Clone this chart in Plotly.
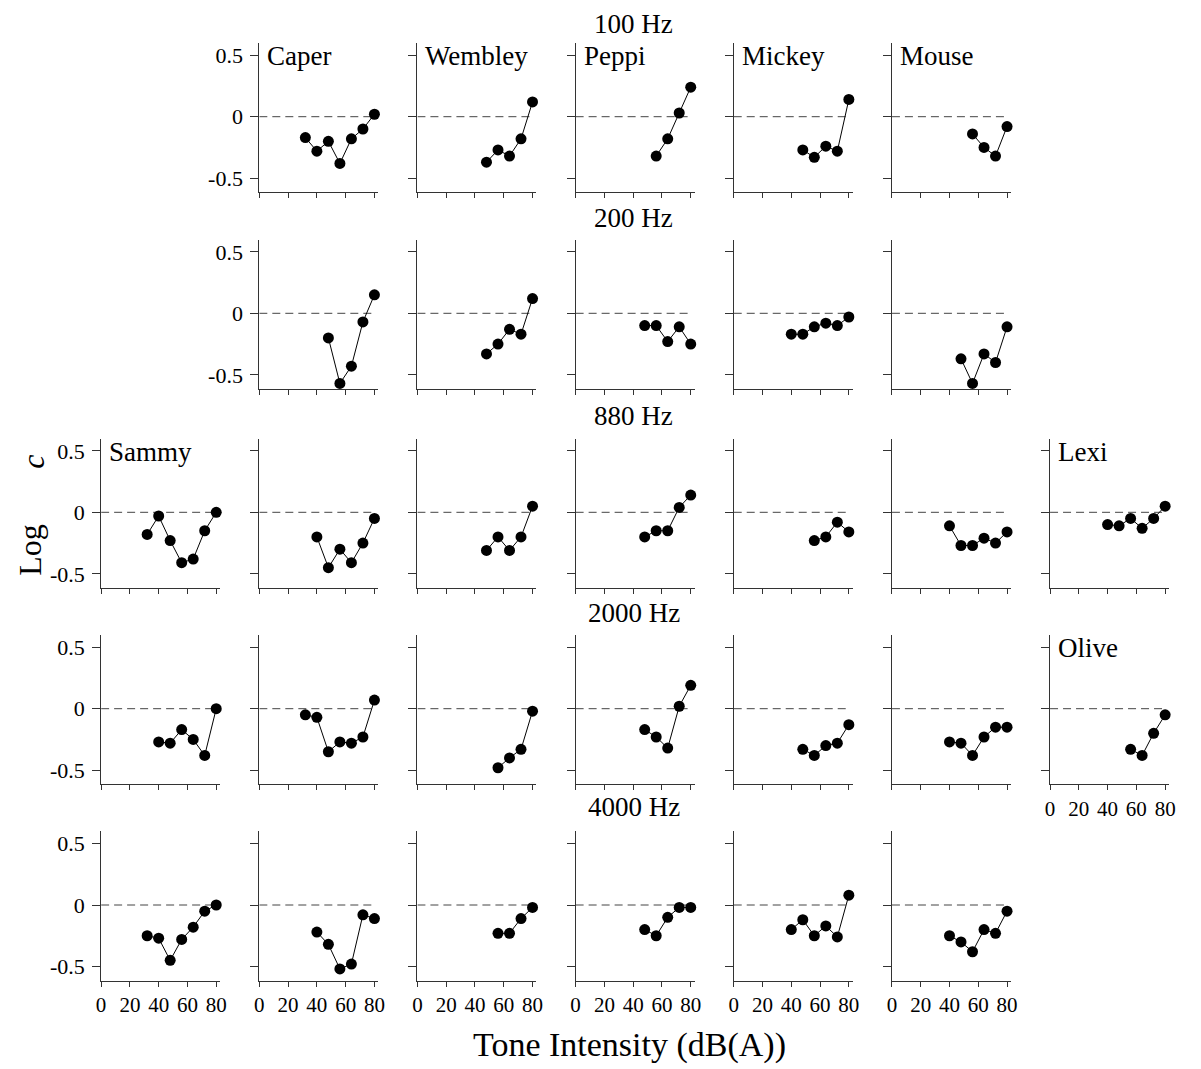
import plotly.graph_objects as go

# ---------------- data ----------------
FREQ_LABELS = ["100 Hz", "200 Hz", "880 Hz", "2000 Hz", "4000 Hz"]
X_TICKS = [0, 20, 40, 60, 80]
X_TICKTEXT = ["0", "20", "40", "60", "80"]
Y_TICKS = [-0.5, 0, 0.5]
Y_TICKTEXT = ["-0.5", "0", "0.5"]
REF_Y = 0
REF_X = [0, 80]

# 100 Hz
caper_100_x = [32, 40, 48, 56, 64, 72, 80]
caper_100_y = [-0.17, -0.28, -0.20, -0.38, -0.18, -0.10, 0.02]
wembley_100_x = [48, 56, 64, 72, 80]
wembley_100_y = [-0.37, -0.27, -0.32, -0.18, 0.12]
peppi_100_x = [56, 64, 72, 80]
peppi_100_y = [-0.32, -0.18, 0.03, 0.24]
mickey_100_x = [48, 56, 64, 72, 80]
mickey_100_y = [-0.27, -0.33, -0.24, -0.28, 0.14]
mouse_100_x = [56, 64, 72, 80]
mouse_100_y = [-0.14, -0.25, -0.32, -0.08]

# 200 Hz
caper_200_x = [48, 56, 64, 72, 80]
caper_200_y = [-0.20, -0.57, -0.43, -0.07, 0.15]
wembley_200_x = [48, 56, 64, 72, 80]
wembley_200_y = [-0.33, -0.25, -0.13, -0.17, 0.12]
peppi_200_x = [48, 56, 64, 72, 80]
peppi_200_y = [-0.10, -0.10, -0.23, -0.11, -0.25]
mickey_200_x = [40, 48, 56, 64, 72, 80]
mickey_200_y = [-0.17, -0.17, -0.11, -0.08, -0.10, -0.03]
mouse_200_x = [48, 56, 64, 72, 80]
mouse_200_y = [-0.37, -0.57, -0.33, -0.40, -0.11]

# 880 Hz
sammy_880_x = [32, 40, 48, 56, 64, 72, 80]
sammy_880_y = [-0.18, -0.03, -0.23, -0.41, -0.38, -0.15, 0.00]
caper_880_x = [40, 48, 56, 64, 72, 80]
caper_880_y = [-0.20, -0.45, -0.30, -0.41, -0.25, -0.05]
wembley_880_x = [48, 56, 64, 72, 80]
wembley_880_y = [-0.31, -0.20, -0.31, -0.20, 0.05]
peppi_880_x = [48, 56, 64, 72, 80]
peppi_880_y = [-0.20, -0.15, -0.15, 0.04, 0.14]
mickey_880_x = [56, 64, 72, 80]
mickey_880_y = [-0.23, -0.20, -0.08, -0.16]
mouse_880_x = [40, 48, 56, 64, 72, 80]
mouse_880_y = [-0.11, -0.27, -0.27, -0.21, -0.25, -0.16]
lexi_880_x = [40, 48, 56, 64, 72, 80]
lexi_880_y = [-0.10, -0.11, -0.05, -0.13, -0.05, 0.05]

# 2000 Hz
sammy_2000_x = [40, 48, 56, 64, 72, 80]
sammy_2000_y = [-0.27, -0.28, -0.17, -0.25, -0.38, 0.00]
caper_2000_x = [32, 40, 48, 56, 64, 72, 80]
caper_2000_y = [-0.05, -0.07, -0.35, -0.27, -0.28, -0.23, 0.07]
wembley_2000_x = [56, 64, 72, 80]
wembley_2000_y = [-0.48, -0.40, -0.33, -0.02]
peppi_2000_x = [48, 56, 64, 72, 80]
peppi_2000_y = [-0.17, -0.23, -0.32, 0.02, 0.19]
mickey_2000_x = [48, 56, 64, 72, 80]
mickey_2000_y = [-0.33, -0.38, -0.30, -0.28, -0.13]
mouse_2000_x = [40, 48, 56, 64, 72, 80]
mouse_2000_y = [-0.27, -0.28, -0.38, -0.23, -0.15, -0.15]
olive_2000_x = [56, 64, 72, 80]
olive_2000_y = [-0.33, -0.38, -0.20, -0.05]

# 4000 Hz
sammy_4000_x = [32, 40, 48, 56, 64, 72, 80]
sammy_4000_y = [-0.25, -0.27, -0.45, -0.28, -0.18, -0.05, 0.00]
caper_4000_x = [40, 48, 56, 64, 72, 80]
caper_4000_y = [-0.22, -0.32, -0.52, -0.48, -0.08, -0.11]
wembley_4000_x = [56, 64, 72, 80]
wembley_4000_y = [-0.23, -0.23, -0.11, -0.02]
peppi_4000_x = [48, 56, 64, 72, 80]
peppi_4000_y = [-0.20, -0.25, -0.10, -0.02, -0.02]
mickey_4000_x = [40, 48, 56, 64, 72, 80]
mickey_4000_y = [-0.20, -0.12, -0.25, -0.17, -0.26, 0.08]
mouse_4000_x = [40, 48, 56, 64, 72, 80]
mouse_4000_y = [-0.25, -0.30, -0.38, -0.20, -0.23, -0.05]

# (row, col, label, x, y, show_ylabels, show_xlabels)
PANELS = [
    (0, 1, "Caper", caper_100_x, caper_100_y, True, False),
    (0, 2, "Wembley", wembley_100_x, wembley_100_y, False, False),
    (0, 3, "Peppi", peppi_100_x, peppi_100_y, False, False),
    (0, 4, "Mickey", mickey_100_x, mickey_100_y, False, False),
    (0, 5, "Mouse", mouse_100_x, mouse_100_y, False, False),
    (1, 1, "", caper_200_x, caper_200_y, True, False),
    (1, 2, "", wembley_200_x, wembley_200_y, False, False),
    (1, 3, "", peppi_200_x, peppi_200_y, False, False),
    (1, 4, "", mickey_200_x, mickey_200_y, False, False),
    (1, 5, "", mouse_200_x, mouse_200_y, False, False),
    (2, 0, "Sammy", sammy_880_x, sammy_880_y, True, False),
    (2, 1, "", caper_880_x, caper_880_y, False, False),
    (2, 2, "", wembley_880_x, wembley_880_y, False, False),
    (2, 3, "", peppi_880_x, peppi_880_y, False, False),
    (2, 4, "", mickey_880_x, mickey_880_y, False, False),
    (2, 5, "", mouse_880_x, mouse_880_y, False, False),
    (2, 6, "Lexi", lexi_880_x, lexi_880_y, False, False),
    (3, 0, "", sammy_2000_x, sammy_2000_y, True, False),
    (3, 1, "", caper_2000_x, caper_2000_y, False, False),
    (3, 2, "", wembley_2000_x, wembley_2000_y, False, False),
    (3, 3, "", peppi_2000_x, peppi_2000_y, False, False),
    (3, 4, "", mickey_2000_x, mickey_2000_y, False, False),
    (3, 5, "", mouse_2000_x, mouse_2000_y, False, False),
    (3, 6, "Olive", olive_2000_x, olive_2000_y, False, True),
    (4, 0, "", sammy_4000_x, sammy_4000_y, True, True),
    (4, 1, "", caper_4000_x, caper_4000_y, False, True),
    (4, 2, "", wembley_4000_x, wembley_4000_y, False, True),
    (4, 3, "", peppi_4000_x, peppi_4000_y, False, True),
    (4, 4, "", mickey_4000_x, mickey_4000_y, False, True),
    (4, 5, "", mouse_4000_x, mouse_4000_y, False, True),
]

# ---------------- layout geometry (pixels, page coordinates) ----------------
W, H = 1201, 1069
PAGE_OFFSET = 8  # default body margin of the html page
COL_X = [97, 256.8, 416.5, 576.3, 736, 895.8, 1055.5]
PLOT_W = 120.2
ROW_ZERO = [116.7, 313.3, 512.3, 708.7, 905.0]
Y_RANGE = [-0.615, 0.6]
X_RANGE = [0, 82.7]
PX_PER_UNIT = 123.0
FREQ_LABEL_Y = [24, 218, 416, 613, 807]
FONT = "Liberation Serif, Times New Roman, serif"
AXIS_COLOR = "#333333"


def fx(p):
    return (p - PAGE_OFFSET) / W


def fy(p):
    return 1 - (p - PAGE_OFFSET) / H


fig = go.Figure()
layout = dict(
    width=W, height=H, margin=dict(l=0, r=0, t=0, b=0),
    paper_bgcolor="white", plot_bgcolor="white", showlegend=False,
    font=dict(family=FONT, color="black", size=22),
)
annotations = []
shapes = []

for k, (r, c, label, xs, ys, show_y, show_x) in enumerate(PANELS, start=1):
    xa = "x" if k == 1 else f"x{k}"
    ya = "y" if k == 1 else f"y{k}"
    top = ROW_ZERO[r] - Y_RANGE[1] * PX_PER_UNIT
    bot = ROW_ZERO[r] - Y_RANGE[0] * PX_PER_UNIT
    x0 = COL_X[c]
    layout["xaxis" if k == 1 else f"xaxis{k}"] = dict(
        domain=[fx(x0), fx(x0 + PLOT_W)], anchor=ya, range=X_RANGE,
        showgrid=False, zeroline=False, showline=True, linecolor=AXIS_COLOR,
        linewidth=1, ticks="outside", ticklen=5, tickwidth=1, tickcolor=AXIS_COLOR,
        tickvals=X_TICKS, ticktext=X_TICKTEXT if show_x else [""] * len(X_TICKS),
        tickfont=dict(size=21, family=FONT, color="black"), fixedrange=True,
    )
    layout["yaxis" if k == 1 else f"yaxis{k}"] = dict(
        domain=[fy(bot), fy(top)], anchor=xa, range=Y_RANGE,
        showgrid=False, zeroline=False, showline=True, linecolor=AXIS_COLOR,
        linewidth=1, ticks="outside", ticklen=8, tickwidth=1, tickcolor=AXIS_COLOR,
        tickvals=Y_TICKS, ticktext=Y_TICKTEXT if show_y else [""] * len(Y_TICKS),
        tickfont=dict(size=22, family=FONT, color="black"), fixedrange=True,
        ticklabelstandoff=3,
    )
    shapes.append(dict(
        type="line", xref=xa, yref=ya, x0=REF_X[0], x1=REF_X[1], y0=REF_Y, y1=REF_Y,
        line=dict(color="#444444", width=1, dash="8px,5px"), layer="below",
    ))
    fig.add_trace(go.Scatter(
        x=xs, y=ys, xaxis=xa, yaxis=ya, mode="lines+markers",
        line=dict(color="black", width=1),
        marker=dict(color="black", size=11),
        cliponaxis=False,
        hoverinfo="x+y",
    ))
    if label:
        annotations.append(dict(
            text=label, xref="paper", yref="paper",
            x=fx(x0 + 6), y=fy(top - 4), xanchor="left", yanchor="top",
            showarrow=False, font=dict(size=27, family=FONT, color="black"),
        ))

for r, txt in enumerate(FREQ_LABELS):
    annotations.append(dict(
        text=txt, xref="paper", yref="paper", x=fx(635), y=fy(FREQ_LABEL_Y[r]),
        xanchor="center", yanchor="middle", showarrow=False,
        font=dict(size=27, family=FONT, color="black"),
    ))

annotations.append(dict(
    text="Tone Intensity (dB(A))", xref="paper", yref="paper", x=fx(631), y=fy(1045),
    xanchor="center", yanchor="middle", showarrow=False,
    font=dict(size=34, family=FONT, color="black"),
))
annotations.append(dict(
    text="Log", xref="paper", yref="paper", x=fx(25), y=fy(550),
    xanchor="center", yanchor="middle", showarrow=False, textangle=-90,
    font=dict(size=32, family=FONT, color="black"),
))
annotations.append(dict(
    text="<i>c</i>", xref="paper", yref="paper", x=fx(28), y=fy(462),
    xanchor="center", yanchor="middle", showarrow=False, textangle=-90,
    font=dict(size=32, family=FONT, color="black"),
))

layout["annotations"] = annotations
layout["shapes"] = shapes
fig.update_layout(**layout)
fig.write_html("out.html")
